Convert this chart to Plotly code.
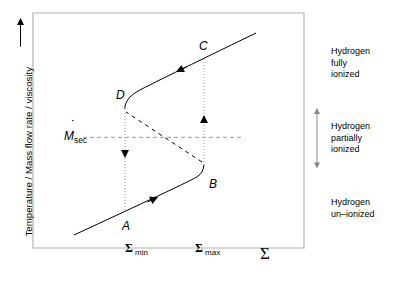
import plotly.graph_objects as go

# ---- data (arbitrary units) ----
sigma_lower = [41, 160, 165, 169, 171]
T_lower = [13, 69, 72, 76, 83]
sigma_middle = [169, 93]
T_middle = [86, 136]
sigma_upper = [92, 92, 94, 97, 102, 107, 223]
T_upper = [139, 142, 147, 151, 155, 158, 215]
sigma_min = 92
sigma_max = 171
T_A, T_B, T_C, T_D = 38, 83, 190, 138
M_sec = 110.7
msec_span = [50, 209]
x_range = [0, 271]
y_range = [0, 235]

point_labels = ["A", "B", "C", "D"]
point_x = [92, 180, 170, 87]
point_y = [22, 64, 202, 153]

regime_labels = ["Hydrogen<br>fully<br>ionized", "Hydrogen<br>partially<br>ionized", "Hydrogen<br>un\u2013ionized"]

fig = go.Figure()
fig.add_trace(go.Scatter(x=sigma_lower, y=T_lower, mode="lines", line=dict(color="black", width=1, shape="spline"), hoverinfo="skip"))
fig.add_trace(go.Scatter(x=sigma_middle, y=T_middle, mode="lines", line=dict(color="black", width=1, dash="4px,4px"), hoverinfo="skip"))
fig.add_trace(go.Scatter(x=sigma_upper, y=T_upper, mode="lines", line=dict(color="black", width=1, shape="spline"), hoverinfo="skip"))
# dotted verticals
fig.add_trace(go.Scatter(x=[sigma_min, sigma_min], y=[T_A, T_D - 2], mode="lines", line=dict(color="#999", width=1, dash="1px,2px"), hoverinfo="skip"))
fig.add_trace(go.Scatter(x=[sigma_max, sigma_max], y=[T_B, T_C], mode="lines", line=dict(color="#999", width=1, dash="1px,2px"), hoverinfo="skip"))
# M_sec dashed horizontal
fig.add_trace(go.Scatter(x=msec_span, y=[M_sec, M_sec], mode="lines", line=dict(color="#999", width=1, dash="4px,3px"), hoverinfo="skip"))

def arrow(x, y, ax, ay, color="black"):
    fig.add_annotation(x=x, y=y, ax=ax, ay=ay, xref="x", yref="y", axref="x", ayref="y",
                       text="", showarrow=True, arrowhead=2, arrowsize=1.6, arrowwidth=1,
                       arrowcolor=color, standoff=0)

# flow arrows on branches
arrow(125, 51, 113, 45.3)
arrow(143, 176, 155, 181.9)
arrow(sigma_min, 90, sigma_min, 97)
arrow(sigma_max, 133, sigma_max, 126)

for lab, x, y in zip(point_labels, point_x, point_y):
    fig.add_annotation(x=x, y=y, text="<i>" + lab + "</i>", showarrow=False,
                       font=dict(family="Liberation Sans, Arial", size=12, color="black"))

fig.add_annotation(x=42, y=111, text="<i>M</i><sub>sec</sub>", showarrow=False,
                   font=dict(family="Liberation Sans, Arial", size=12, color="black"))
fig.add_annotation(x=40, y=122, text="\u02D9", showarrow=False,
                   font=dict(family="Liberation Sans, Arial", size=14, color="black"))

W, X0, H, Y0 = 271.0, 33.0, 235.0, 248.0
def px(xp):
    return (xp - X0) / W
def py(yp):
    return (Y0 - yp) / H

# frame
fig.add_shape(type="rect", xref="paper", yref="paper", x0=0, y0=0, x1=1, y1=1,
              line=dict(color="#b4b4b4", width=1.2))

sub_style = "font-family:Liberation Sans;font-size:8px"
# x-axis labels
fig.add_annotation(x=px(123), y=py(259), xref="paper", yref="paper",
                   text="<b>\u03A3</b><sub><span style='" + sub_style + "'> min</span></sub>", showarrow=False,
                   font=dict(family="Liberation Serif", size=12, color="black"))
fig.add_annotation(x=px(207), y=py(259), xref="paper", yref="paper",
                   text="<b>\u03A3</b><sub><span style='" + sub_style + "'> max</span></sub>", showarrow=False,
                   font=dict(family="Liberation Serif", size=12, color="black"))
fig.add_annotation(x=px(272), y=py(265), xref="paper", yref="paper", text="\u03A3", showarrow=False,
                   font=dict(family="Liberation Serif", size=17, color="black"))

# y-axis title + arrow
fig.add_annotation(x=px(20), y=py(152), xref="paper", yref="paper", text="Temperature / Mass flow rate / viscosity",
                   textangle=-90, showarrow=False, font=dict(family="Liberation Sans, Arial", size=9.7, color="black"))
fig.add_annotation(x=px(20.5), y=py(18), ax=0, ay=30, xref="paper", yref="paper",
                   text="", showarrow=True, arrowhead=2, arrowsize=1.4, arrowwidth=1, arrowcolor="black", standoff=0)

# regime labels
for txt, yc in zip(regime_labels, [44, 137, 221]):
    fig.add_annotation(x=px(329), y=py(yc), xref="paper", yref="paper", text=txt, showarrow=False,
                       xanchor="left", align="left", font=dict(family="Liberation Sans, Arial", size=9, color="black"))
fig.add_annotation(x=px(317), y=py(108), ax=0, ay=62, xref="paper", yref="paper",
                   text="", showarrow=True, arrowhead=2, arrowsize=1.2, arrowwidth=1, arrowcolor="#888",
                   arrowside="end+start", standoff=0, startstandoff=0)

fig.update_xaxes(range=x_range, showgrid=False, zeroline=False, showticklabels=False, ticks="", showline=False)
fig.update_yaxes(range=y_range, showgrid=False, zeroline=False, showticklabels=False, ticks="", showline=False)
fig.update_layout(width=401, height=288, margin=dict(l=33, r=97, t=13, b=40),
                  paper_bgcolor="white", plot_bgcolor="white", showlegend=False)
fig.write_html("out.html", config={"displayModeBar": False},
               post_script="document.body.style.margin='0';")
